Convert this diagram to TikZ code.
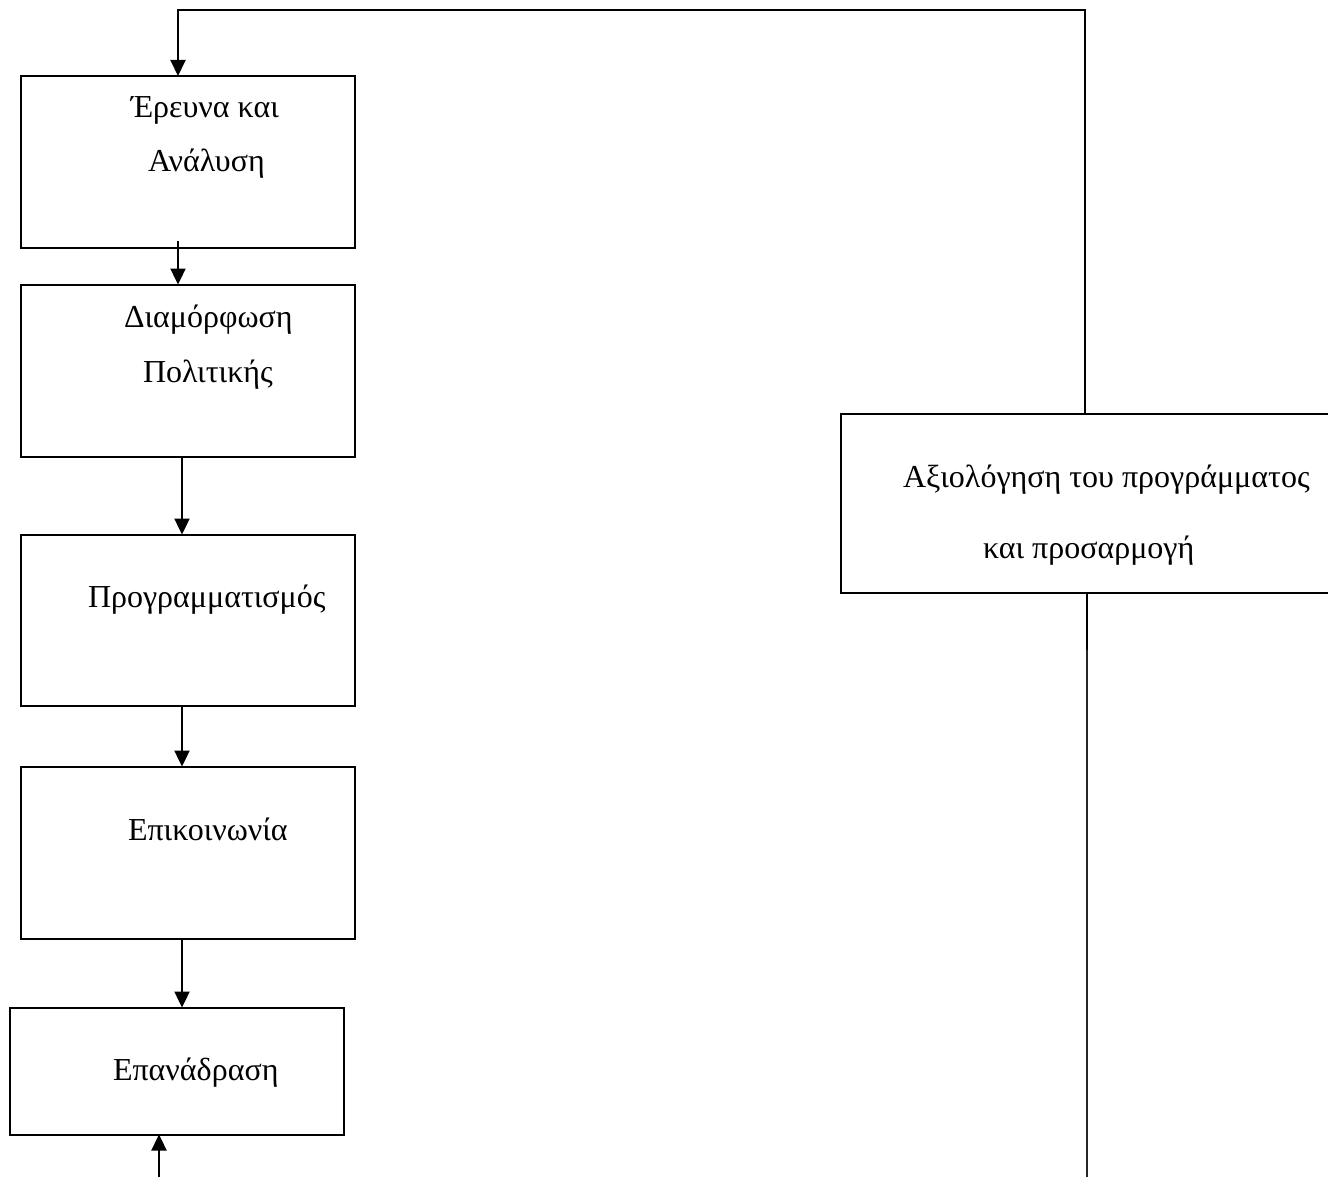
\documentclass[tikz,border=0pt]{standalone}
\usepackage{fontspec}
\setmainfont{Liberation Serif}
\usetikzlibrary{arrows.meta}
\begin{document}
\begin{tikzpicture}[x=1pt,y=-1pt,
  box/.style={draw=black,line width=2pt,outer sep=0pt,inner sep=0pt,anchor=north west},
  lbl/.style={anchor=base west,inner sep=0pt,outer sep=0pt,font=\fontsize{32}{32}\selectfont},
  conn/.style={draw=black,line width=2.4pt},
  arr/.style={conn,-{Triangle[length=16pt,width=15pt]}}]
\fill[white] (0,0) rectangle (1328,1177);
\useasboundingbox (0,0) rectangle (1328,1177);
\clip (0,0) rectangle (1328,1177);
% boxes
\node[box,minimum width=334pt,minimum height=172pt] (b1) at (21,76) {};
\node[box,minimum width=334pt,minimum height=172pt] (b2) at (21,284.5) {};
\node[box,minimum width=334pt,minimum height=171.5pt] (b3) at (21,534.5) {};
\node[box,minimum width=334pt,minimum height=172pt] (b4) at (21,766.5) {};
\node[box,minimum width=334pt,minimum height=127pt] (b5) at (9.5,1007.5) {};
\node[box,minimum width=500pt,minimum height=178.5pt] (b6) at (841,414) {};
% texts
\node[lbl] (t1a) at (131,118) {Έρευνα και};
\node[lbl] (t1b) at (148,172) {Ανάλυση};
\node[lbl] (t2a) at (124,327) {Διαμόρφωση};
\node[lbl] (t2b) at (143,382) {Πολιτικής};
\node[lbl] (t3) at (88,607) {Προγραμματισμός};
\node[lbl] (t4) at (128,840) {Επικοινωνία};
\node[lbl] (t5) at (113,1080) {Επανάδραση};
\node[lbl] (t6a) at (903,487) {Αξιολόγηση του προγράμματος};
\node[lbl] (t6b) at (983,558) {και προσαρμογή};
% connector coordinates
\coordinate (loopR) at (1085,10.5);
\coordinate (loopL) at (178,10.5);
\coordinate (s12) at (178,241);
\coordinate (colA) at (182,0);
\coordinate (fb) at (159,1180);
\coordinate (rb) at (1087,1180);
\coordinate (rbk) at (1087,650);
% connectors
\draw[conn,line width=2pt,-{Triangle[length=16pt,width=15pt]}] (b6.north -| loopR) -- (loopR) -- (loopL) -- (loopL |- b1.north);
\draw[arr] (s12) -- (s12 |- b2.north);
\draw[arr] (b2.south -| colA) -- (b3.north -| colA);
\draw[arr] (b3.south -| colA) -- (b4.north -| colA);
\draw[arr] (b4.south -| colA) -- (b5.north -| colA);
\draw[arr] (fb) -- (fb |- b5.south);
\draw[draw=black!85,line width=1.6pt] (b6.south -| rb) -- (rb);
\draw[draw=black,line width=2.4pt] (b6.south -| rb) -- (rbk);
\end{tikzpicture}
\end{document}
